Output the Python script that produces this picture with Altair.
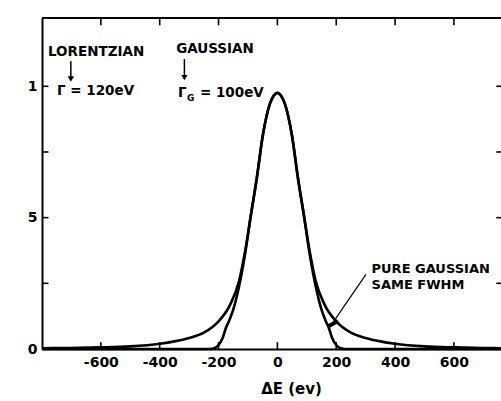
import altair as alt
import pandas as pd

X_MIN, X_MAX = -800, 760
Y_MIN, Y_MAX = 0, 1.26
FONT = "DejaVu Sans"

# Voigt line shape: Lorentzian (Γ = 120 eV) folded with a Gaussian (Γ_G = 100 eV)
voigt_de = [-800, -700, -600, -500, -400, -350, -300, -250, -200, -160, -130, -110,
            -90, -70, -50, -25, -12, 0, 12, 25, 50, 70, 90, 110, 130, 160, 200,
            250, 300, 350, 400, 500, 600, 700, 760]
voigt_int = [0.003, 0.004, 0.006, 0.010, 0.020, 0.029, 0.042, 0.062, 0.105, 0.17, 0.26, 0.37,
             0.51, 0.65, 0.81, 0.935, 0.965, 0.975, 0.965, 0.935, 0.81, 0.65, 0.51, 0.37, 0.26,
             0.17, 0.105, 0.062, 0.042, 0.029, 0.020, 0.010, 0.006, 0.004, 0.003]

# Pure Gaussian with the same FWHM
gauss_de = [-800, -400, -230, -215, -200, -185, -175, -165, -150, -130, -110, -90, -70,
            -50, -25, -12, 0, 12, 25, 50, 70, 90, 110, 130, 150, 165, 175, 185, 200,
            215, 230, 400, 760]
gauss_int = [0, 0, 0, 0.003, 0.015, 0.045, 0.08, 0.105, 0.15, 0.24, 0.36, 0.51, 0.65,
             0.81, 0.935, 0.965, 0.975, 0.965, 0.935, 0.81, 0.65, 0.51, 0.36, 0.24, 0.15,
             0.105, 0.08, 0.045, 0.015, 0.003, 0, 0, 0]

# Tick positions
x_ticks = [-600, -400, -200, 0, 200, 400, 600]
y_label_values = [0, 0.5, 1.0]
left_ticks = [0.25, 0.5, 0.75, 1.0]
right_ticks = [0.25, 0.5, 0.75, 1.0]

# Pointer from the "pure Gaussian" note to the gap between the curves
pointer_de = [184, 301]
pointer_int = [0.093, 0.284]
bridge_de = [172, 206]
bridge_int = [0.086, 0.107]

# Annotation texts
note_text = ["LORENTZIAN", "GAUSSIAN", "Γ = 120eV"]
note_de = [-616, -212, -618]
note_int = [1.131, 1.143, 0.981]

fwhm_text = ["PURE GAUSSIAN", "SAME FWHM"]
fwhm_de = [320, 320]
fwhm_int = [0.304, 0.244]

# Arrows under the two width labels
arrow_de = [-702, -316]
arrow_top = [1.095, 1.104]
arrow_tip = [1.028, 1.033]

# Γ_G label pieces
gg_de = -338
gg_int = 0.976

x_scale = alt.Scale(domain=[X_MIN, X_MAX], nice=False, zero=False)
y_scale = alt.Scale(domain=[Y_MIN, Y_MAX], nice=False, zero=False)

x_axis = alt.Axis(
    values=x_ticks, ticks=False, grid=False,
    domainColor="black", domainWidth=2,
    labelFont=FONT, labelFontSize=14, labelFontWeight="bold", labelColor="black", labelPadding=6,
    labelExpr="datum.value < 0 ? '-' + abs(datum.value) : '' + datum.value",
    title="ΔE (ev)", titleFont=FONT, titleFontSize=15, titleFontWeight="bold",
    titleColor="black", titleX=249, titleY=39, titleBaseline="middle", titleAlign="center",
)
y_axis = alt.Axis(
    values=y_label_values, ticks=False, grid=False,
    domainColor="black", domainWidth=2,
    labelFont=FONT, labelFontSize=14, labelFontWeight="bold", labelColor="black", labelPadding=5,
    labelExpr="datum.value == 0.5 ? '5' : '' + datum.value",
    title="",
)


def ex(field="de"):
    return alt.X(f"{field}:Q", scale=x_scale, axis=x_axis)


def ey(field="i"):
    return alt.Y(f"{field}:Q", scale=y_scale, axis=y_axis)


curves = pd.concat([
    pd.DataFrame({"de": voigt_de, "i": voigt_int, "series": "voigt"}),
    pd.DataFrame({"de": gauss_de, "i": gauss_int, "series": "gauss"}),
])

lines = alt.Chart(curves).mark_line(
    color="black", strokeWidth=2.6, interpolate="monotone"
).encode(x=ex(), y=ey(), detail="series:N")

# Top frame line
top_frame = alt.Chart(pd.DataFrame({"a": [X_MIN], "b": [X_MAX], "y": [Y_MAX]})).mark_rule(
    color="black", strokeWidth=2
).encode(x=ex("a"), x2="b:Q", y=ey("y"))

# Inward ticks on bottom, top, left and right
bottom_ticks = alt.Chart(pd.DataFrame({"de": x_ticks})).transform_calculate(
    y0="0", y1="0.026"
).mark_rule(color="black", strokeWidth=1.6).encode(x=ex(), y=ey("y0"), y2="y1:Q")

top_ticks = alt.Chart(pd.DataFrame({"de": x_ticks})).transform_calculate(
    y0=f"{Y_MAX}", y1=f"{Y_MAX - 0.028}"
).mark_rule(color="black", strokeWidth=1.6).encode(x=ex(), y=ey("y0"), y2="y1:Q")

left_tick_marks = alt.Chart(pd.DataFrame({"i": left_ticks})).transform_calculate(
    x0=f"{X_MIN}", x1=f"{X_MIN + 22}"
).mark_rule(color="black", strokeWidth=1.6).encode(x=ex("x0"), x2="x1:Q", y=ey())

right_tick_marks = alt.Chart(pd.DataFrame({"i": right_ticks})).transform_calculate(
    x0=f"{X_MAX}", x1=f"{X_MAX - 16}"
).mark_rule(color="black", strokeWidth=1.6).encode(x=ex("x0"), x2="x1:Q", y=ey())

pointer = alt.Chart(pd.DataFrame({"de": pointer_de, "i": pointer_int})).mark_line(
    color="black", strokeWidth=1.2
).encode(x=ex(), y=ey())

bridge = alt.Chart(pd.DataFrame({"de": bridge_de, "i": bridge_int})).mark_line(
    color="black", strokeWidth=4
).encode(x=ex(), y=ey())

notes = alt.Chart(pd.DataFrame({"de": note_de, "i": note_int, "t": note_text})).mark_text(
    font=FONT, fontSize=13.5, fontWeight="bold", color="black", align="center", baseline="middle"
).encode(x=ex(), y=ey(), text="t:N")

fwhm_notes = alt.Chart(pd.DataFrame({"de": fwhm_de, "i": fwhm_int, "t": fwhm_text})).mark_text(
    font=FONT, fontSize=13, fontWeight="bold", color="black", align="left", baseline="middle"
).encode(x=ex(), y=ey(), text="t:N")

arrow_df = pd.DataFrame({"de": arrow_de, "top": arrow_top, "tip": arrow_tip})
arrow_shafts = alt.Chart(arrow_df).mark_rule(color="black", strokeWidth=1.5).encode(
    x=ex(), y=ey("top"), y2="tip:Q"
)
arrow_heads = alt.Chart(arrow_df).mark_point(
    shape="triangle-down", filled=True, color="black", size=40, opacity=1
).encode(x=ex(), y=ey("tip"))

gg_df = pd.DataFrame({"de": [gg_de], "i": [gg_int]})
gg_gamma = alt.Chart(gg_df).mark_text(
    font=FONT, fontSize=13.5, fontWeight="bold", color="black", align="left",
    baseline="middle", text="Γ"
).encode(x=ex(), y=ey())
gg_sub = alt.Chart(gg_df).mark_text(
    font=FONT, fontSize=9, fontWeight="bold", color="black", align="left",
    baseline="middle", text="G", dx=9, dy=5
).encode(x=ex(), y=ey())
gg_rest = alt.Chart(gg_df).mark_text(
    font=FONT, fontSize=13.5, fontWeight="bold", color="black", align="left",
    baseline="middle", text="= 100eV", dx=22
).encode(x=ex(), y=ey())

chart = alt.layer(
    lines, top_frame, bottom_ticks, top_ticks, left_tick_marks, right_tick_marks,
    pointer, bridge, notes, fwhm_notes, arrow_shafts, arrow_heads,
    gg_gamma, gg_sub, gg_rest,
).properties(
    width=459, height=331,
    padding={"left": 42, "top": 18, "right": 0, "bottom": 52},
    autosize=alt.AutoSizeParams(type="none"),
    background="white",
).configure_view(strokeWidth=0)

chart.save("out.html", embed_options={"renderer": "svg", "actions": False})
